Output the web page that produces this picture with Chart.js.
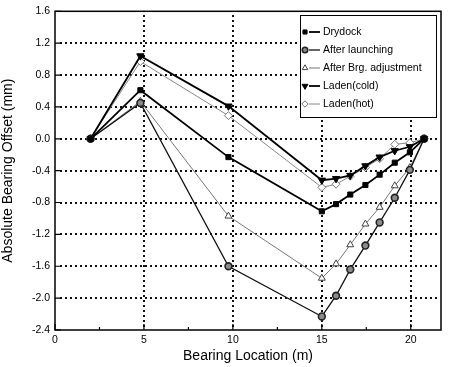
<!DOCTYPE html>
<html>
<head>
<meta charset="utf-8">
<script src="https://cdn.jsdelivr.net/npm/chart.js@4.4.0/dist/chart.umd.min.js"></script>
<style>
html,body{margin:0;padding:0;background:#fff;}
#wrap{width:453px;height:367px;position:relative;}
</style>
</head>
<body>
<div id="wrap"><canvas id="c" width="453" height="367"></canvas></div>
<script>
const bearingX = [2, 4.8, 9.75, 15, 15.8, 16.6, 17.45, 18.25, 19.1, 19.95, 20.75];
const drydock = [0, 0.61, -0.23, -0.91, -0.82, -0.70, -0.58, -0.45, -0.30, -0.17, 0];
const afterLaunching = [0, 0.45, -1.60, -2.23, -1.97, -1.64, -1.34, -1.05, -0.74, -0.39, 0];
const afterBrgAdj = [0, 0.47, -0.97, -1.75, -1.57, -1.33, -1.07, -0.86, -0.59, -0.36, 0];
const ladenCold = [0, 1.04, 0.41, -0.52, -0.50, -0.46, -0.34, -0.23, -0.15, -0.10, 0];
const ladenHot = [0, 0.97, 0.29, -0.61, -0.57, -0.47, -0.36, -0.25, -0.07, -0.05, 0];
const seriesNames = ['Drydock', 'After launching', 'After Brg. adjustment', 'Laden(cold)', 'Laden(hot)'];
const xTicks = [0, 5, 10, 15, 20];
const xMinorTicks = [2.5, 7.5, 12.5, 17.5];
const yTicks = [-2.4, -2.0, -1.6, -1.2, -0.8, -0.4, 0.0, 0.4, 0.8, 1.2, 1.6];
const X_MIN = 0, X_MAX = 21.7, Y_MIN = -2.4, Y_MAX = 1.6;

const FONT = "'Liberation Sans', Arial, sans-serif";
const pts = arr => bearingX.map((x, i) => ({x: x, y: arr[i]}));

const styles = [
  {borderColor:'#000', borderWidth:1.8, pointStyle:'rect', pointRadius:3.6, pointBackgroundColor:'#000', pointBorderColor:'#000', pointBorderWidth:1, pointRotation:0},
  {borderColor:'#111', borderWidth:1.3, pointStyle:'circle', pointRadius:3.4, pointBackgroundColor:'#8a8a8a', pointBorderColor:'#222', pointBorderWidth:1.6, pointRotation:0},
  {borderColor:'#777', borderWidth:1, pointStyle:'triangle', pointRadius:4, pointBackgroundColor:'#fff', pointBorderColor:'#444', pointBorderWidth:1, pointRotation:0},
  {borderColor:'#000', borderWidth:1.8, pointStyle:'triangle', pointRadius:4.2, pointBackgroundColor:'#000', pointBorderColor:'#000', pointBorderWidth:1, pointRotation:180},
  {borderColor:'#888', borderWidth:1, pointStyle:'rectRot', pointRadius:4, pointBackgroundColor:'#fff', pointBorderColor:'#777', pointBorderWidth:1, pointRotation:0}
];
const seriesData = [drydock, afterLaunching, afterBrgAdj, ladenCold, ladenHot];

const datasets = seriesData.map((d, i) => Object.assign({
  label: seriesNames[i],
  data: pts(d),
  showLine: true,
  tension: 0,
  fill: false
}, styles[i]));

function drawDotGrid(chart) {
  const {ctx, chartArea: a, scales} = chart;
  ctx.save();
  ctx.fillStyle = '#111';
  xTicks.forEach(v => {
    if (v <= X_MIN || v >= X_MAX) return;
    const p = Math.round(scales.x.getPixelForValue(v));
    for (let yy = Math.round(a.bottom) - 5; yy > a.top + 1; yy -= 5) ctx.fillRect(p - 1, yy, 2, 2);
  });
  yTicks.forEach(v => {
    if (v <= Y_MIN + 1e-9 || v >= Y_MAX - 1e-9) return;
    const p = Math.round(scales.y.getPixelForValue(v));
    for (let xx = Math.round(a.left) + 5; xx < a.right - 1; xx += 5) ctx.fillRect(xx, p - 1, 2, 2);
  });
  ctx.restore();
}

const framePlugin = {
  id: 'frame',
  beforeDatasetsDraw(chart) { drawDotGrid(chart); },
  afterDraw(chart) {
    const {ctx, chartArea: a, scales} = chart;
    const xs = scales.x, ys = scales.y;
    ctx.save();
    ctx.setLineDash([]);
    ctx.strokeStyle = '#000';
    ctx.lineWidth = 1.5;
    ctx.strokeRect(a.left, a.top, a.right - a.left, a.bottom - a.top);
    ctx.lineWidth = 1.2;
    ctx.beginPath();
    xTicks.forEach(v => { const p = xs.getPixelForValue(v); ctx.moveTo(p, a.bottom); ctx.lineTo(p, a.bottom - 6); });
    xMinorTicks.forEach(v => { const p = xs.getPixelForValue(v); ctx.moveTo(p, a.bottom); ctx.lineTo(p, a.bottom - 3); });
    yTicks.forEach(v => { const p = ys.getPixelForValue(v); ctx.moveTo(a.left, p); ctx.lineTo(a.left + 6, p); });
    ctx.stroke();

    // legend
    const bx = 300, by = 15, bw = 136, bh = 102;
    ctx.fillStyle = '#fff';
    ctx.fillRect(bx, by, bw, bh);
    ctx.lineWidth = 1;
    ctx.strokeStyle = '#000';
    ctx.strokeRect(bx + 0.5, by + 0.5, bw, bh);
    ctx.font = '10.5px ' + FONT;
    ctx.textBaseline = 'middle';
    ctx.textAlign = 'left';
    chart.data.datasets.forEach((ds, i) => {
      const yy = 32 + i * 18;
      ctx.setLineDash([]);
      ctx.strokeStyle = ds.borderColor;
      ctx.lineWidth = ds.borderWidth;
      ctx.beginPath();
      ctx.moveTo(309, yy); ctx.lineTo(320, yy);
      ctx.stroke();
      ctx.fillStyle = ds.pointBackgroundColor;
      ctx.strokeStyle = ds.pointBorderColor;
      ctx.lineWidth = ds.pointBorderWidth;
      Chart.helpers.drawPoint(ctx, {pointStyle: ds.pointStyle, radius: ds.pointRadius * 0.8, rotation: ds.pointRotation, borderWidth: ds.pointBorderWidth}, 305, yy);
      ctx.fillStyle = '#000';
      ctx.fillText(ds.label, 323, yy);
    });
    ctx.restore();
  }
};

new Chart(document.getElementById('c'), {
  type: 'scatter',
  data: {datasets: datasets},
  plugins: [framePlugin],
  options: {
    responsive: false,
    animation: false,
    devicePixelRatio: 1,
    layout: {padding: {top: 10, right: 12, left: 0, bottom: 0}},
    plugins: {legend: {display: false}, tooltip: {enabled: false}},
    scales: {
      x: {
        type: 'linear', min: X_MIN, max: X_MAX,
        afterBuildTicks: s => { s.ticks = xTicks.map(v => ({value: v})); },
        afterFit: s => { s.height = 37; },
        grid: {display: false, drawTicks: false},
        border: {display: false},
        ticks: {color: '#000', font: {family: FONT, size: 10.5}, padding: 4, maxRotation: 0,
          callback: v => String(v)},
        title: {display: true, text: 'Bearing Location (m)', color: '#000', font: {family: FONT, size: 14}, padding: {top: 0, bottom: 2}}
      },
      y: {
        type: 'linear', min: Y_MIN, max: Y_MAX,
        afterBuildTicks: s => { s.ticks = yTicks.map(v => ({value: v})); },
        afterFit: s => { s.width = 55; },
        grid: {display: false, drawTicks: false},
        border: {display: false},
        ticks: {color: '#000', font: {family: FONT, size: 10.5}, padding: 5,
          callback: v => Number(v).toFixed(1)},
        title: {display: true, text: 'Absolute Bearing Offset (mm)', color: '#000', font: {family: FONT, size: 14}, padding: {top: 0, bottom: 4}}
      }
    }
  }
});
</script>
</body>
</html>
